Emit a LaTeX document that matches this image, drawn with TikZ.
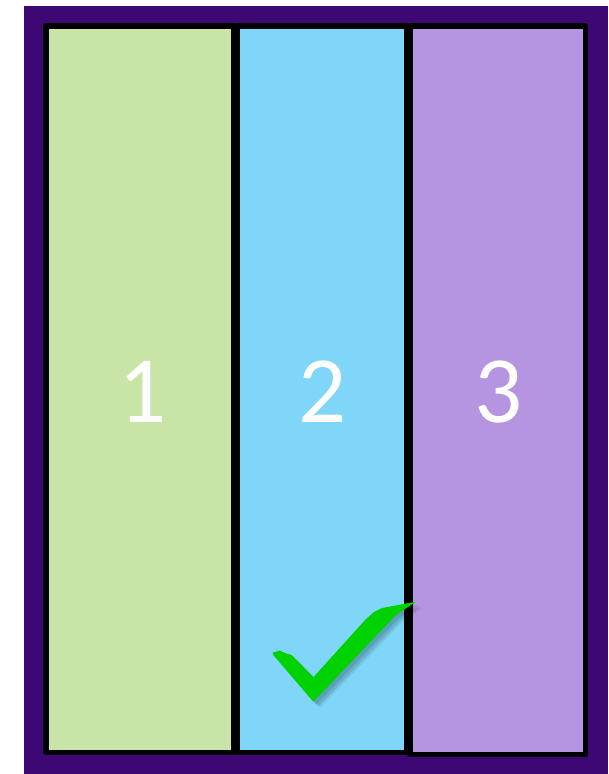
\documentclass[tikz,border=0pt]{standalone}
\usepackage{fontspec}
\setmainfont{Carlito}
\definecolor{bgpurple}{RGB}{62,8,116}
\definecolor{pgreen}{RGB}{201,228,167}
\definecolor{pblue}{RGB}{128,214,248}
\definecolor{ppurple}{RGB}{181,149,226}
\definecolor{checkgreen}{RGB}{0,210,0}
\begin{document}
\begin{tikzpicture}[x=1pt,y=-1pt,
  panel/.style={draw=black,line width=5.5pt,line join=round,rectangle,inner sep=0pt},
  num/.style={text=white,inner sep=0pt,font=\fontsize{95}{95}\selectfont}]
\useasboundingbox (0,0) rectangle (608,774);
\fill[bgpurple] (24,6) rectangle (608,774);
% panels
\coordinate (a1) at (46,26); \coordinate (b1) at (234,752.5);
\coordinate (a2) at (237,26); \coordinate (b2) at (407,752.5);
\coordinate (a3) at (410,26); \coordinate (b3) at (585.5,754.5);
\draw[panel,fill=pgreen] (a1) rectangle (b1);
\draw[panel,fill=pblue] (a2) rectangle (b2);
\draw[panel,fill=ppurple] (a3) rectangle (b3);
\node[num] (n1) at (143,392) {1};
\node[num] (n2) at (323,392) {2};
\node[num] (n3) at (499,392) {3};
% check mark shadow
\foreach \dx/\dy/\op in {3/3/0.10,5/5/0.10,7/6/0.07}{
\fill[black,opacity=\op,shift={(\dx,\dy)}] (272.7,652.7) -- (291.7,655) -- (313.3,677.3) -- (366,619) -- (382,608) -- (416,601.7) -- (396,615) -- (313.3,701.7) -- (273.3,655) -- cycle;
}
% check mark
\fill[checkgreen] (272.7,652.7) -- (280,650.5) -- (285,653) -- (291.7,655) -- (313.3,677.3) -- (366,619) -- (374,612) -- (382,608) -- (416,601.7) -- (396,615) -- (313.3,701.7) -- (273.3,655) -- cycle;
\end{tikzpicture}
\end{document}
